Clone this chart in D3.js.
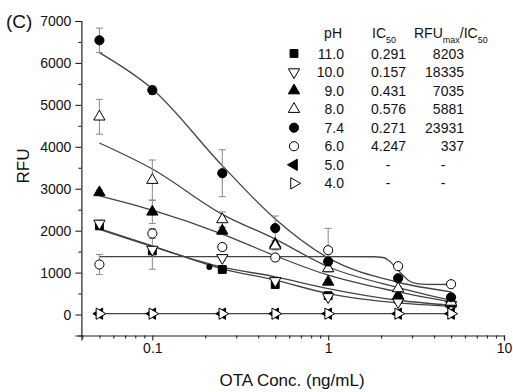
<!DOCTYPE html>
<html>
<head>
<meta charset="utf-8">
<script src="https://cdn.jsdelivr.net/npm/d3@7/dist/d3.min.js"></script>
<style>
  body { margin: 0; background: #fff; }
  text { font-family: "Liberation Sans", Arial, sans-serif; fill: #111; }
</style>
</head>
<body>
<script>
// concentrations (ng/mL)
var conc = [0.05, 0.1, 0.25, 0.5, 1, 2.5, 5];

var phLabels    = ["11.0", "10.0", "9.0", "8.0", "7.4", "6.0", "5.0", "4.0"];
var ic50Labels  = ["0.291", "0.157", "0.431", "0.576", "0.271", "4.247", "-", "-"];
var ratioLabels = ["8203", "18335", "7035", "5881", "23931", "337", "-", "-"];

// measured RFU and error
var rfu110 = [2115, 1518, 1075, 716, 450, 370, 240];
var err110 = [60, 60, 50, 40, 30, 30, 20];
var rfu100 = [2172, 1551, 1351, 802, 420, 300, 230];
var err100 = [80, 470, 60, 50, 40, 30, 20];
var rfu90  = [2912, 2449, 1995, 1680, 778, 450, 260];
var err90  = [60, 280, 80, 80, 60, 40, 20];
var rfu80  = [4716, 3205, 2267, 1640, 1098, 620, 300];
var err80  = [415, 480, 180, 100, 60, 50, 30];
var rfu74  = [6540, 5350, 3370, 2060, 1265, 866, 413];
var err74  = [290, 100, 560, 290, 100, 60, 40];
var rfu60  = [1193, 1933, 1610, 1360, 1535, 1153, 723];
var err60  = [240, 120, 80, 80, 520, 50, 30];
var rfu50  = [20, 20, 20, 20, 20, 20, 20];
var err50  = [40, 40, 40, 40, 40, 40, 40];
var rfu40  = [20, 20, 20, 20, 20, 20, 20];
var err40  = [40, 40, 40, 40, 40, 40, 40];

// fitted curves
var fit110 = [2030, 1620, 1130, 900, 620, 341, 222];
var fit100 = [2050, 1640, 1090, 820, 500, 277, 198];
var fit90  = [2830, 2489, 1920, 1400, 938, 540, 300];
var fit80  = [4090, 3470, 2390, 1800, 1140, 644, 341];
var fit74  = [6245, 5380, 3550, 2280, 1350, 770, 540];
var fitX60 = [0.05, 1, 1.8, 2.05, 2.2, 2.55, 2.85, 3.2, 3.6, 5];
var fitY60 = [1380, 1380, 1378, 1360, 1296, 1017, 819, 735, 720, 716];
var fit50  = [20, 20, 20, 20, 20, 20, 20];

// stray small dot in the figure
var strayX = [0.211];
var strayY = [1136];

var xTicks = [0.1, 1, 10];
var yTicks = [0, 1000, 2000, 3000, 4000, 5000, 6000, 7000];

var W = 513, H = 392;
var svg = d3.select("body").append("svg").attr("width", W).attr("height", H);

var x = d3.scaleLog().domain([0.0395, 10]).range([81.4, 504]);
var y = d3.scaleLinear().domain([-500, 7000]).range([335.5, 21]);

var series = [
  { v: rfu110, e: err110, fx: conc,   fy: fit110, type: d3.symbolSquare,   size: 62, rot: 0,   fill: "#000" },
  { v: rfu100, e: err100, fx: conc,   fy: fit100, type: d3.symbolTriangle, size: 55, rot: 180, fill: "#fff" },
  { v: rfu90,  e: err90,  fx: conc,   fy: fit90,  type: d3.symbolTriangle, size: 55, rot: 0,   fill: "#000" },
  { v: rfu80,  e: err80,  fx: conc,   fy: fit80,  type: d3.symbolTriangle, size: 55, rot: 0,   fill: "#fff" },
  { v: rfu74,  e: err74,  fx: conc,   fy: fit74,  type: d3.symbolCircle,   size: 66, rot: 0,   fill: "#000" },
  { v: rfu60,  e: err60,  fx: fitX60, fy: fitY60, type: d3.symbolCircle,   size: 66, rot: 0,   fill: "#fff" },
  { v: rfu50,  e: err50,  fx: conc,   fy: fit50,  type: d3.symbolTriangle, size: 55, rot: -90, fill: "#000" },
  { v: rfu40,  e: err40,  fx: conc,   fy: fit50,  type: d3.symbolTriangle, size: 55, rot: 90,  fill: "#fff" }
];

// axes
var ax = svg.append("g").attr("transform", "translate(0,335.5)");
ax.call(d3.axisBottom(x).tickValues(xTicks).tickSize(5).tickFormat(d3.format("")));
var minorX = [];
[0.01, 0.1, 1].forEach(function(b) { for (var k = 2; k <= 9; k++) { var t = b * k; if (t >= 0.04 && t < 10) minorX.push(t); } });
svg.append("g").attr("transform", "translate(0,335.5)")
   .call(d3.axisBottom(x).tickValues(minorX).tickSize(3).tickFormat(""))
   .select(".domain").remove();

var ay = svg.append("g").attr("transform", "translate(81.4,0)");
ay.call(d3.axisLeft(y).tickValues(yTicks).tickSize(6).tickPadding(4).tickFormat(d3.format("d")));
svg.append("g").attr("transform", "translate(81.4,0)")
   .call(d3.axisLeft(y).tickValues([-500, 500, 1500, 2500, 3500, 4500, 5500, 6500]).tickSize(3).tickFormat(""))
   .select(".domain").remove();

svg.selectAll(".domain").attr("stroke", "#222").attr("stroke-width", 1.2);
svg.selectAll(".tick line").attr("stroke", "#222").attr("stroke-width", 1.1);
svg.selectAll(".tick text").style("font-size", "14px").style("font-family", "Liberation Sans, Arial, sans-serif").attr("fill", "#111");

svg.append("text").attr("x", 292).attr("y", 386).attr("text-anchor", "middle")
   .style("font-size", "17px").text("OTA Conc. (ng/mL)");
svg.append("text").attr("transform", "translate(29,166) rotate(-90)").attr("text-anchor", "middle")
   .style("font-size", "17px").text("RFU");
svg.append("text").attr("x", 6).attr("y", 28).style("font-size", "19px").text("(C)");

// fitted curves
var line = d3.line().x(function(d) { return x(d[0]); }).y(function(d) { return y(d[1]); }).curve(d3.curveMonotoneX);
series.forEach(function(s, i) {
  if (i === 7) return;
  svg.append("path").datum(d3.zip(s.fx, s.fy)).attr("d", line)
     .attr("fill", "none").attr("stroke", "#444").attr("stroke-width", 1.3);
});

// error bars
series.forEach(function(s) {
  var g = svg.append("g").attr("stroke", "#888").attr("stroke-width", 1);
  conc.forEach(function(c, j) {
    var cx = x(c), y0 = y(s.v[j] - s.e[j]), y1 = y(s.v[j] + s.e[j]);
    g.append("line").attr("x1", cx).attr("x2", cx).attr("y1", y0).attr("y2", y1);
    g.append("line").attr("x1", cx - 3.5).attr("x2", cx + 3.5).attr("y1", y0).attr("y2", y0);
    g.append("line").attr("x1", cx - 3.5).attr("x2", cx + 3.5).attr("y1", y1).attr("y2", y1);
  });
});

// markers
function marker(g, s, cx, cy) {
  g.append("path").attr("d", d3.symbol().type(s.type).size(s.size)())
   .attr("transform", "translate(" + cx + "," + cy + ") rotate(" + s.rot + ")")
   .attr("fill", s.fill).attr("stroke", "#000").attr("stroke-width", 1);
}
series.forEach(function(s) {
  var g = svg.append("g");
  conc.forEach(function(c, j) { marker(g, s, x(c), y(s.v[j])); });
});
svg.selectAll(".stray").data(strayX).enter().append("circle")
   .attr("cx", function(d) { return x(d); }).attr("cy", function(d, i) { return y(strayY[i]); })
   .attr("r", 3).attr("fill", "#000");

// legend table
var lg = svg.append("g");
lg.append("text").attr("x", 342).attr("y", 38).attr("text-anchor", "end").style("font-size", "14px").text("pH");
var h2 = lg.append("text").attr("x", 372).attr("y", 38).style("font-size", "14px");
h2.append("tspan").text("IC");
h2.append("tspan").attr("dy", 5).style("font-size", "9px").text("50");
var h3 = lg.append("text").attr("x", 414).attr("y", 38).style("font-size", "14px");
h3.append("tspan").text("RFU");
h3.append("tspan").attr("dy", 5).style("font-size", "9px").text("max");
h3.append("tspan").attr("dy", -5).text("/IC");
h3.append("tspan").attr("dy", 5).style("font-size", "9px").text("50");

phLabels.forEach(function(p, i) {
  var cy = 53.5 + i * 18.55;
  marker(lg, series[i], 294, cy);
  lg.append("text").attr("x", 344).attr("y", cy + 5).attr("text-anchor", "end").style("font-size", "14px").text(p);
  var dash1 = ic50Labels[i] === "-";
  lg.append("text").attr("x", dash1 ? 388 : 406).attr("y", cy + 5)
    .attr("text-anchor", dash1 ? "middle" : "end").style("font-size", "14px").text(ic50Labels[i]);
  var dash2 = ratioLabels[i] === "-";
  lg.append("text").attr("x", dash2 ? 443 : 464).attr("y", cy + 5)
    .attr("text-anchor", dash2 ? "middle" : "end").style("font-size", "14px").text(ratioLabels[i]);
});
</script>
</body>
</html>
